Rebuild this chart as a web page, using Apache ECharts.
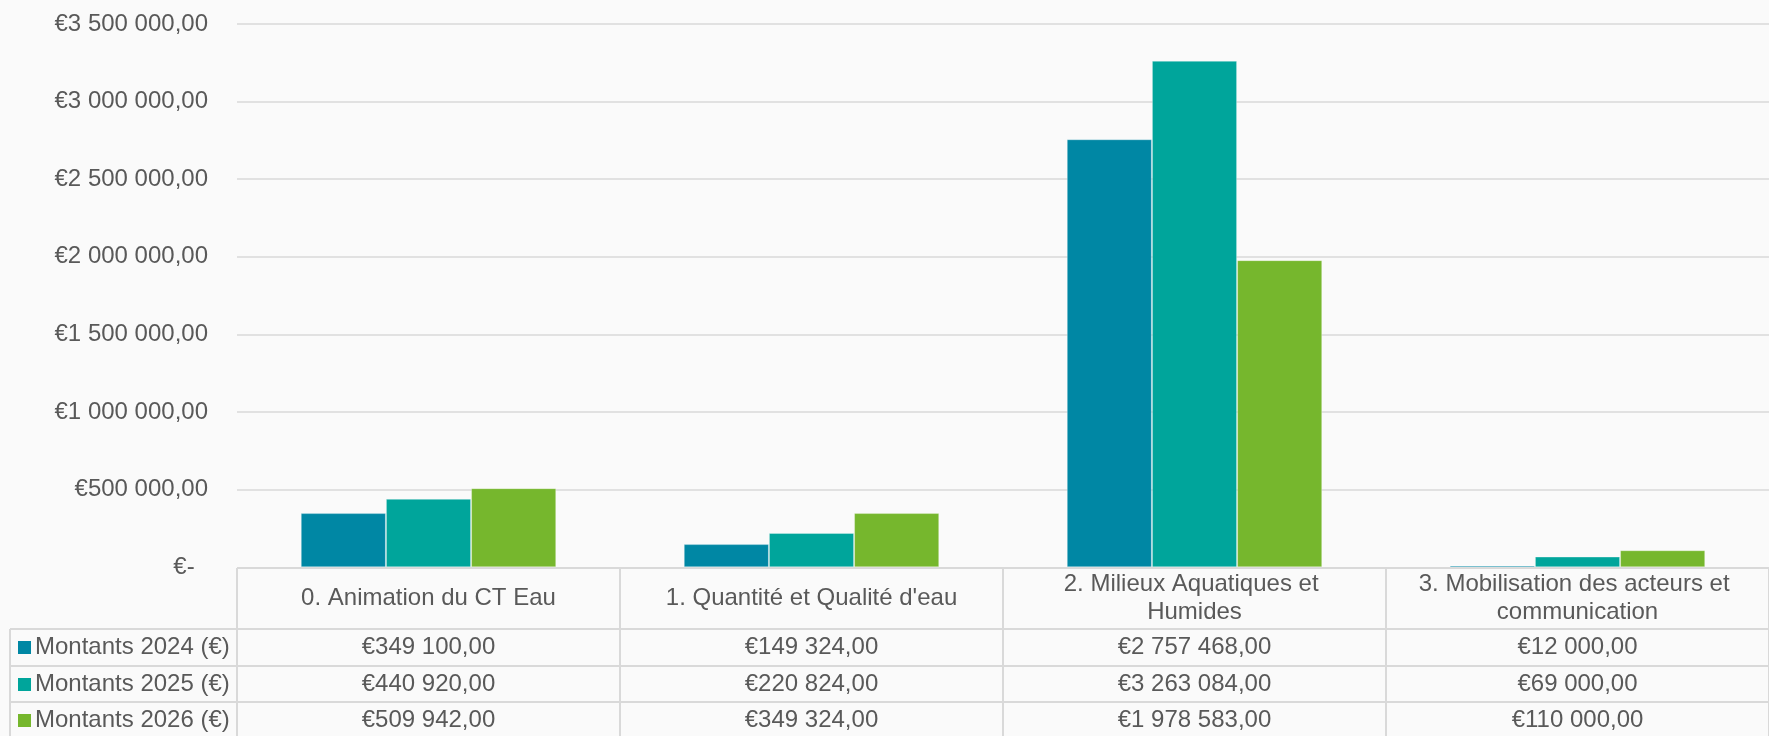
<!DOCTYPE html>
<html>
<head>
<meta charset="utf-8">
<script src="https://cdn.jsdelivr.net/npm/echarts@6/dist/echarts.min.js"></script>
<style>
  html, body { margin: 0; padding: 0; background: #fafafa; }
  #chart { width: 1769px; height: 736px; }
</style>
</head>
<body>
<div id="chart"></div>
<script>
// Budget par axe thématique, 2024-2026
const categories = [
  '0. Animation du CT Eau',
  "1. Quantité et Qualité d'eau",
  '2. Milieux Aquatiques et Humides',
  '3. Mobilisation des acteurs et communication'
];
const seriesNames = ['Montants 2024 (€)', 'Montants 2025 (€)', 'Montants 2026 (€)'];
const montants2024 = [349100, 149324, 2757468, 12000];
const montants2025 = [440920, 220824, 3263084, 69000];
const montants2026 = [509942, 349324, 1978583, 110000];
const yMin = 0, yMax = 3500000, yStep = 500000;

const seriesValues = [montants2024, montants2025, montants2026];
const colors = ['#0087A4', '#00A59B', '#76B72D'];

const FONT = '"Liberation Sans", Arial, sans-serif';
const TEXT = '#595959';
const BORDER = '#d9d9d9';
const HEADER_H = 61;
const ROW_H = 36.7;
const TABLE_LEFT = 10;

// Accounting style: €1 234 567,00 and €- for zero
function euro(v) {
  if (v === 0) return '€-';
  const parts = v.toFixed(2).split('.');
  return '€' + parts[0].replace(/\B(?=(\d{3})+(?!\d))/g, ' ') + ',' + parts[1];
}

function hLine(xa, xb, y) {
  return { type: 'line', shape: { x1: xa, y1: y, x2: xb, y2: y },
           style: { stroke: BORDER, lineWidth: 2 }, silent: true };
}
function vLine(x, ya, yb) {
  return { type: 'line', shape: { x1: x, y1: ya, x2: x, y2: yb },
           style: { stroke: BORDER, lineWidth: 2 }, silent: true };
}
function label(text, x, y, align, extra) {
  return { type: 'text', silent: true,
           style: Object.assign({ text: text, x: x, y: y, align: align, verticalAlign: 'middle',
                                  fill: TEXT, fontSize: 24, fontFamily: FONT }, extra || {}) };
}

// Data table under the plot: one column per category, aligned on the category axis
function renderTable(params, api) {
  const i = api.value(0);
  const c = api.coord([i, 0]);
  const w = api.size([1, 0])[0];
  const x0 = Math.round(c[0] - w / 2);
  const x1 = Math.round(c[0] + w / 2);
  const top = Math.round(c[1]) + 1;
  const rowTops = [top + HEADER_H];
  for (let r = 1; r <= seriesValues.length; r++) rowTops.push(top + HEADER_H + r * ROW_H);
  const bottom = rowTops[rowTops.length - 1];
  const children = [];

  children.push(hLine(x0, x1, top));
  rowTops.forEach(y => children.push(hLine(x0, x1, Math.round(y))));
  children.push(vLine(x0, top, bottom));
  children.push(vLine(x1, top, bottom));

  children.push(label(categories[i], c[0], top + HEADER_H / 2, 'center',
                      { width: 340, overflow: 'break', lineHeight: 28 }));

  seriesValues.forEach((vals, r) => {
    const cy = (rowTops[r] + rowTops[r + 1]) / 2;
    children.push(label(euro(vals[i]), c[0], cy, 'center'));
  });

  if (i === 0) {
    rowTops.forEach(y => children.push(hLine(TABLE_LEFT, x0, Math.round(y))));
    children.push(vLine(TABLE_LEFT, rowTops[0], bottom));
    seriesNames.forEach((name, r) => {
      const cy = (rowTops[r] + rowTops[r + 1]) / 2;
      children.push({ type: 'rect', silent: true,
                      shape: { x: 18, y: Math.round(cy - 6.5), width: 13, height: 13 },
                      style: { fill: colors[r] } });
      children.push(label(name, 35, cy, 'left'));
    });
  }
  return { type: 'group', children: children };
}

const chart = echarts.init(document.getElementById('chart'), null, { renderer: 'canvas' });

const barSeries = seriesNames.map((name, k) => ({
  name: name,
  type: 'bar',
  data: seriesValues[k],
  barGap: '0%',
  barCategoryGap: '33.3%',
  itemStyle: { color: colors[k], borderColor: 'rgba(255,255,255,0.3)', borderWidth: 1 },
  z: 3
}));

chart.setOption({
  backgroundColor: '#fafafa',
  animation: false,
  grid: { left: 237, top: 24, width: 1542, height: 543.3, containLabel: false },
  xAxis: {
    type: 'category',
    data: categories,
    axisLine: { show: false },
    axisTick: { show: false },
    axisLabel: { show: false },
    splitLine: { show: false }
  },
  yAxis: {
    type: 'value',
    min: yMin,
    max: yMax,
    interval: yStep,
    axisLine: { show: false },
    axisTick: { show: false },
    axisLabel: {
      margin: 29,
      color: TEXT,
      fontSize: 24,
      fontFamily: FONT,
      formatter: v => v === 0 ? '€-  ' : euro(v)
    },
    splitLine: { lineStyle: { color: BORDER, width: 1.6 } }
  },
  series: barSeries.concat([{
    type: 'custom',
    name: 'table',
    renderItem: renderTable,
    data: categories.map((_, i) => [i, 0]),
    encode: { x: 0, y: 1 },
    clip: false,
    silent: true,
    z: 2
  }])
});
</script>
</body>
</html>
